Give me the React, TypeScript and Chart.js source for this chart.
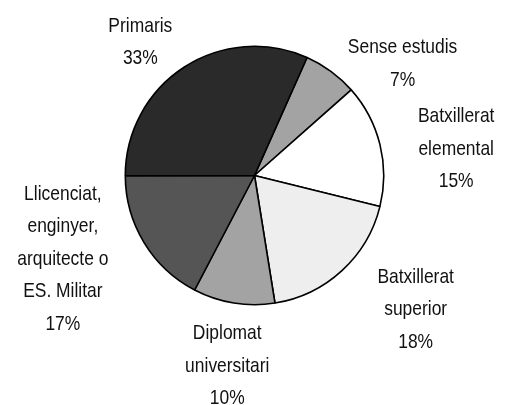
import React, { useEffect, useRef } from "react";
import { Chart, registerables } from "chart.js";

Chart.register(...registerables);

const categories = [
  "Sense estudis",
  "Batxillerat elemental",
  "Batxillerat superior",
  "Diplomat universitari",
  "Llicenciat, enginyer, arquitecte o ES. Militar",
  "Primaris",
];
const labelLines = [
  ["Sense estudis"],
  ["Batxillerat", "elemental"],
  ["Batxillerat", "superior"],
  ["Diplomat", "universitari"],
  ["Llicenciat,", "enginyer,", "arquitecte o", "ES. Militar"],
  ["Primaris"],
];
const values = [6.8, 15.4, 18.6, 10.2, 17.3, 31.7];
const percentLabels = ["7%", "15%", "18%", "10%", "17%", "33%"];
const colors = ["#a3a3a3", "#ffffff", "#eeeeee", "#a3a3a3", "#555555", "#2a2a2a"];
// label block offsets relative to the arc's mid-angle point on the rim
const labelOffsets = [
  [71.7, -9.2],
  [76.2, 2.8],
  [73.7, 37.2],
  [-6.5, 61.2],
  [-81.2, 14.8],
  [-43.7, -26.5],
];

const FONT = '21px "Liberation Sans", Arial, sans-serif';
const SCALE_X = 0.83;
const LINE_H = 32.5;
const CAP_H = 15;

const labelPlugin = {
  id: "outsideLabels",
  afterDatasetsDraw(chart: any) {
    const ctx = chart.ctx;
    const meta = chart.getDatasetMeta(0);
    ctx.save();
    ctx.font = FONT;
    ctx.fillStyle = "#111";
    ctx.textAlign = "center";
    ctx.textBaseline = "alphabetic";
    meta.data.forEach((arc: any, i: number) => {
      const { x, y, startAngle, endAngle, outerRadius } = arc.getProps(
        ["x", "y", "startAngle", "endAngle", "outerRadius"],
        true
      );
      const mid = (startAngle + endAngle) / 2;
      const ax = x + Math.cos(mid) * outerRadius;
      const ay = y + Math.sin(mid) * outerRadius;
      const cx = ax + labelOffsets[i][0];
      const cy = ay + labelOffsets[i][1];
      const lines = [...labelLines[i], percentLabels[i]];
      const blockH = (lines.length - 1) * LINE_H + CAP_H;
      let by = cy - blockH / 2 + CAP_H;
      lines.forEach((ln) => {
        ctx.save();
        ctx.translate(cx, by);
        ctx.scale(SCALE_X, 1);
        ctx.fillText(ln, 0, 0);
        ctx.restore();
        by += LINE_H;
      });
    });
    ctx.restore();
  },
};

export default function App() {
  const ref = useRef<HTMLCanvasElement | null>(null);
  useEffect(() => {
    if (!ref.current) return;
    const chart = new Chart(ref.current, {
      type: "pie",
      data: {
        labels: categories,
        datasets: [
          {
            data: values,
            backgroundColor: colors,
            borderColor: "#000000",
            borderWidth: 1.6,
          },
        ],
      },
      options: {
        responsive: false,
        animation: false,
        rotation: 24,
        layout: { padding: { top: 45.5, bottom: 99.5, left: 124.5, right: 120.5 } },
        plugins: {
          legend: { display: false },
          tooltip: { enabled: false },
        },
      },
      plugins: [labelPlugin],
    });
    return () => chart.destroy();
  }, []);
  return (
    <div style={{ position: "absolute", left: 0, top: 0, width: 505, height: 405, background: "#fff" }}>
      <canvas ref={ref} width={505} height={405} />
    </div>
  );
}
